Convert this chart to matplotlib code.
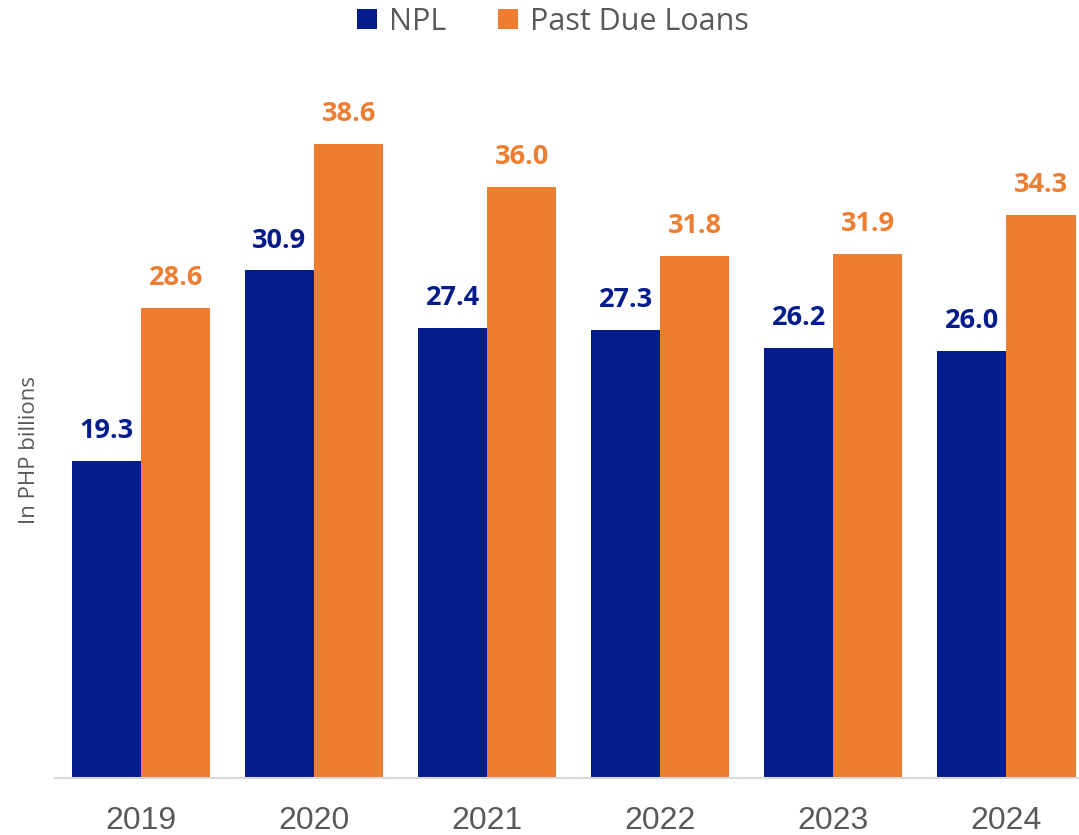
import matplotlib.pyplot as plt
import numpy as np

years = ["2019", "2020", "2021", "2022", "2023", "2024"]
npl = [19.3, 30.9, 27.4, 27.3, 26.2, 26.0]
past_due = [28.6, 38.6, 36.0, 31.8, 31.9, 34.3]

NAVY = "#041C8C"
ORANGE = "#ED7D31"
GRAY = "#595959"

fig = plt.figure(figsize=(10.79, 8.35), dpi=100)
ax = fig.add_axes([55 / 1079, 57 / 835, 1 - 55 / 1079, (778 - 88) / 835])

x = np.arange(len(years))
w = 0.40
b1 = ax.bar(x - w / 2, npl, w, color=NAVY, label="NPL")
b2 = ax.bar(x + w / 2, past_due, w, color=ORANGE, label="Past Due Loans")

for bars, vals, col in ((b1, npl, NAVY), (b2, past_due, ORANGE)):
    for r, v in zip(bars, vals):
        ax.annotate(f"{v:.1f}", (r.get_x() + r.get_width() / 2, v),
                    xytext=(0, 12), textcoords="offset points",
                    ha="center", va="bottom", color=col,
                    fontsize=19.5, fontweight="bold", family="Open Sans")

ax.set_xlim(-0.497, 5.42)
ax.set_ylim(0, 42)
ax.set_xticks(x)
ax.set_xticklabels(years, fontsize=23, color=GRAY, family="Liberation Sans")
ax.tick_params(axis="x", length=0, pad=20)
ax.set_yticks([])
for s in ("top", "right", "left"):
    ax.spines[s].set_visible(False)
ax.spines["bottom"].set_color("#D9D9D9")
ax.spines["bottom"].set_linewidth(1.5)

fig.text(30 / 1079, 1 - 450 / 835, "In PHP billions", rotation=90,
         ha="center", va="center", fontsize=16, color=GRAY, family="Open Sans")

fig.legend(handles=[b1, b2], loc="center", bbox_to_anchor=(553 / 1079, 1 - 22 / 835),
           ncol=2, frameon=False, handlelength=0.65, handleheight=0.65,
           handletextpad=0.4, columnspacing=1.7,
           prop={"family": "Open Sans", "size": 22}, labelcolor=GRAY)

fig.savefig("out.png", dpi=100)
